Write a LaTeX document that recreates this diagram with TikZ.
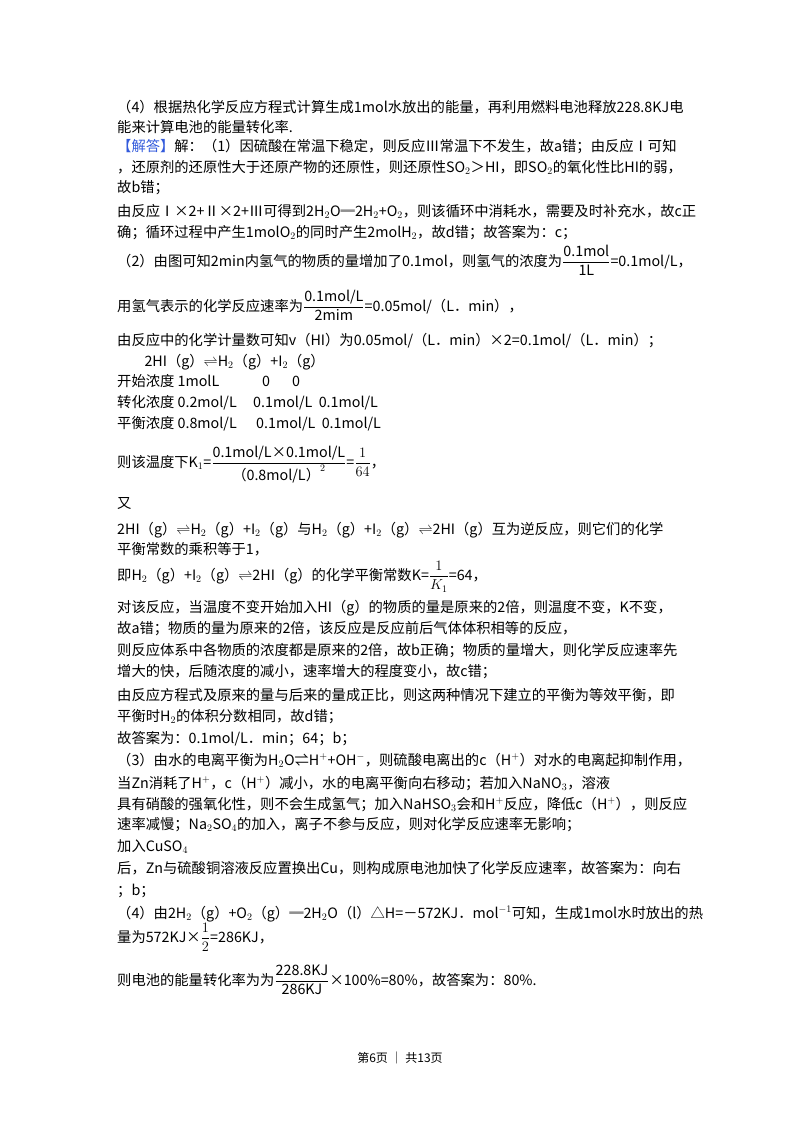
\documentclass[tikz,border=0pt]{standalone}
\usepackage{amsmath}
\usepackage{fontspec}
\setmainfont{Noto Sans CJK SC}
\begin{document}
\begin{tikzpicture}[x=1pt,y=-1pt,
  tl/.style={anchor=base west,inner sep=0pt,font=\fontsize{14.3}{16}\selectfont}]
\useasboundingbox (0,0) rectangle (800,1132);
\fill[white] (0,0) rectangle (800,1132);
\definecolor{ansblue}{RGB}{50,90,220}
\newcommand\fr[2]{$\dfrac{\mbox{#1}}{\mbox{#2}}$}
\newcommand\eqa{$\rightleftharpoons$}
\node[tl] (l1) at (117,112) {（4）根据热化学反应方程式计算生成1mol水放出的能量，再利用燃料电池释放228.8KJ电};
\node[tl] (l2) at (117,132) {能来计算电池的能量转化率.};
\node[tl] (l3) at (117,151) {{\color{ansblue}【解答】}解：（1）因硫酸在常温下稳定，则反应Ⅲ常温下不发生，故a错；由反应Ⅰ可知};
\node[tl] (l4) at (117,172) {，还原剂的还原性大于还原产物的还原性，则还原性SO$_2$＞HI，即SO$_2$的氧化性比HI的弱，};
\node[tl] (l5) at (117,192) {故b错；};
\node[tl] (l6) at (117,216) {由反应Ⅰ×2+Ⅱ×2+Ⅲ可得到2H$_2$O═2H$_2$+O$_2$，则该循环中消耗水，需要及时补充水，故c正};
\node[tl] (l7) at (117,237) {确；循环过程中产生1molO$_2$的同时产生2molH$_2$，故d错；故答案为：c；};
\node[tl] (l8) at (117,266) {（2）由图可知2min内氢气的物质的量增加了0.1mol，则氢气的浓度为\fr{0.1mol}{1L}=0.1mol/L，};
\node[tl] (l9) at (117,311) {用氢气表示的化学反应速率为\fr{0.1mol/L}{2mim}=0.05mol/（L．min），};
\node[tl] (l10) at (117,345) {由反应中的化学计量数可知v（HI）为0.05mol/（L．min）×2=0.1mol/（L．min）；};
\node[tl] (l11) at (130,366) {\hspace{1em}2HI（g）\eqa H$_2$（g）+I$_2$（g）};
\node[tl] (l12) at (117,386) {开始浓度 1molL};
\node[tl] (l12b) at (262,386) {0};
\node[tl] (l12c) at (292,386) {0};
\node[tl] (l13) at (117,407) {转化浓度 0.2mol/L};
\node[tl] (l13b) at (253,407) {0.1mol/L\ \ 0.1mol/L};
\node[tl] (l14) at (117,428) {平衡浓度 0.8mol/L};
\node[tl] (l14b) at (256,428) {0.1mol/L\ \ 0.1mol/L};
\node[tl] (l15) at (117,467) {则该温度下K$_1$=$\dfrac{\mbox{0.1mol/L×0.1mol/L}}{\mbox{（0.8mol/L）}^{2}}$=$\dfrac{1}{64}$，};
\node[tl] (l16) at (117,508) {又};
\node[tl] (l17) at (117,534) {2HI（g）\eqa H$_2$（g）+I$_2$（g）与H$_2$（g）+I$_2$（g）\eqa 2HI（g）互为逆反应，则它们的化学};
\node[tl] (l18) at (117,554) {平衡常数的乘积等于1，};
\node[tl] (l19) at (117,580) {即H$_2$（g）+I$_2$（g）\eqa 2HI（g）的化学平衡常数K=$\dfrac{1}{K_1}$=64，};
\node[tl] (l20) at (117,612) {对该反应，当温度不变开始加入HI（g）的物质的量是原来的2倍，则温度不变，K不变，};
\node[tl] (l21) at (117,633) {故a错；物质的量为原来的2倍，该反应是反应前后气体体积相等的反应，};
\node[tl] (l22) at (117,655) {则反应体系中各物质的浓度都是原来的2倍，故b正确；物质的量增大，则化学反应速率先};
\node[tl] (l23) at (117,676) {增大的快，后随浓度的减小，速率增大的程度变小，故c错；};
\node[tl] (l24) at (117,700) {由反应方程式及原来的量与后来的量成正比，则这两种情况下建立的平衡为等效平衡，即};
\node[tl] (l25) at (117,721) {平衡时H$_2$的体积分数相同，故d错；};
\node[tl] (l26) at (117,743) {故答案为：0.1mol/L．min；64；b；};
\node[tl] (l27) at (117,765) {（3）由水的电离平衡为H$_2$O⇌H$^+$+OH$^-$，则硫酸电离出的c（H$^+$）对水的电离起抑制作用，};
\node[tl] (l28) at (117,788) {当Zn消耗了H$^+$，c（H$^+$）减小，水的电离平衡向右移动；若加入NaNO$_3$，溶液};
\node[tl] (l29) at (117,809) {具有硝酸的强氧化性，则不会生成氢气；加入NaHSO$_3$会和H$^+$反应，降低c（H$^+$），则反应};
\node[tl] (l30) at (117,829) {速率减慢；Na$_2$SO$_4$的加入，离子不参与反应，则对化学反应速率无影响；};
\node[tl] (l31) at (117,851) {加入CuSO$_4$};
\node[tl] (l32) at (117,873) {后，Zn与硫酸铜溶液反应置换出Cu，则构成原电池加快了化学反应速率，故答案为：向右};
\node[tl] (l33) at (117,895) {；b；};
\node[tl] (l34) at (117,918) {（4）由2H$_2$（g）+O$_2$（g）═2H$_2$O（l）△H=－572KJ．mol$^{-1}$可知，生成1mol水时放出的热};
\node[tl] (l35) at (117,942) {量为572KJ×$\dfrac{1}{2}$=286KJ，};
\node[tl] (l36) at (117,985) {则电池的能量转化率为为\fr{228.8KJ}{286KJ}×100\%=80\%，故答案为：80\%.};
\node[anchor=base,inner sep=0pt,font=\fontsize{12}{14}\selectfont] (foot) at (400,1062) {第6页 ｜ 共13页};
\end{tikzpicture}
\end{document}
